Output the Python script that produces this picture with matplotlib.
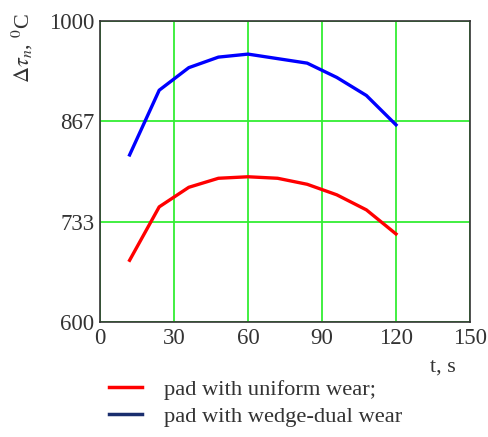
import matplotlib
matplotlib.use("Agg")
import matplotlib.pyplot as plt
from matplotlib.lines import Line2D

t = [12, 24, 36, 48, 60, 72, 84, 96, 108, 120]
uniform = [682, 753, 779, 791, 793, 791, 783, 769, 749, 717]
wedge = [822, 908, 938, 952, 956, 950, 944, 925, 901, 862]
xticks = [0, 30, 60, 90, 120, 150]
yticks = [600, 733, 867, 1000]

plt.rcParams['font.family'] = ['Liberation Serif', 'DejaVu Serif']
plt.rcParams['mathtext.fontset'] = 'stix'

fig = plt.figure(figsize=(4.88, 4.37), dpi=100)
ax = fig.add_axes([100/488, 1-322/437, 370/488, 301/437])

ax.set_xlim(0, 150)
ax.set_ylim(600, 1000)
ax.set_xticks(xticks)
ax.set_yticks(yticks)
ax.grid(True, color='#33ee33', linewidth=1.3)
ax.set_axisbelow(True)
ax.tick_params(length=0, labelsize=16.5, colors='#333333')
ax.tick_params(axis='x', pad=4)
ax.tick_params(axis='y', pad=4)
for s in ax.spines.values():
    s.set_color('#333333')
    s.set_linewidth(1.2)

ax.plot(t, wedge, color='#0000ff', linewidth=2.4, zorder=3)
ax.plot(t, uniform, color='#ff0000', linewidth=2.4, zorder=3)

fig.text(443/488, 1-367/437, 't, s', fontsize=16, color='#333333', ha='center', va='center')
fig.text(22/488, 1-48/437, r'$\Delta\tau_n$, $^0$C', fontsize=16, color='#333333',
         rotation=90, ha='center', va='center')

handles = [Line2D([], [], color='#ff0000', linewidth=2.5),
           Line2D([], [], color='#1a2e6e', linewidth=2.5)]
fig.legend(handles, ['pad with uniform wear;', 'pad with wedge-dual wear'],
           loc='center left', bbox_to_anchor=(109/488, 1-403/437), frameon=False,
           fontsize=16.2, handlelength=1.45, handletextpad=1.0, labelspacing=0.25,
           labelcolor='#333333', borderaxespad=0, borderpad=0)

fig.savefig('out.png', dpi=100)
